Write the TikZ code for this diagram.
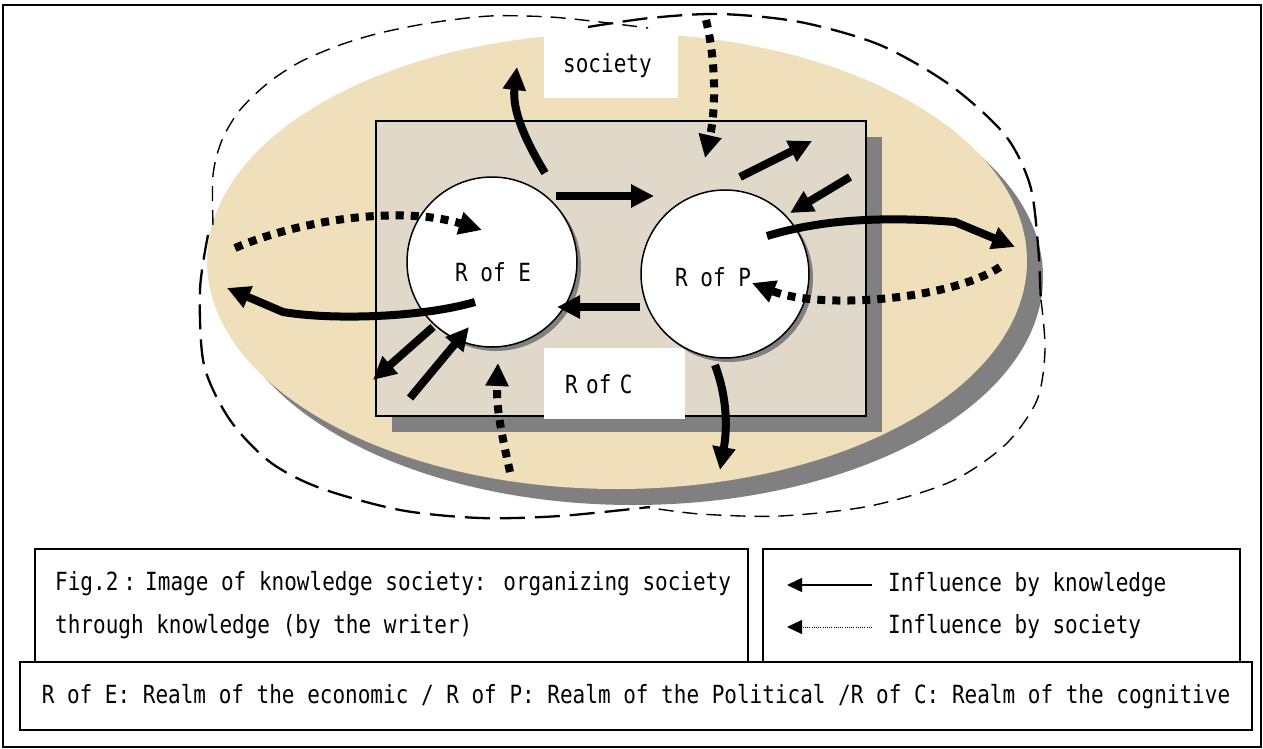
\documentclass[tikz,border=0pt]{standalone}
\usepackage{fontspec}
\setmainfont{DejaVu Sans Mono}[FakeStretch=0.84]
\usetikzlibrary{arrows.meta}

\definecolor{paper}{RGB}{239,223,186}
\definecolor{stone}{RGB}{224,216,201}
\definecolor{shadowgray}{RGB}{128,128,128}

\begin{document}
\begin{tikzpicture}[x=1pt,y=-1pt,inner sep=0pt,
    font=\fontsize{25}{30}\selectfont,
    knw/.style={line width=8pt,-{Triangle[length=23pt,width=22pt]}},
    soc/.style={knw,dash pattern=on 8pt off 7pt},
    thindash/.style={line width=1.4pt,dash pattern=on 15pt off 9pt},
    thickdash/.style={line width=2.3pt,dash pattern=on 25pt off 10pt},
    realm/.style={circle,draw,line width=1.5pt,fill=white,minimum size=170pt},
    labelbox/.style={fill=white,anchor=north west,align=left},
    legbox/.style={draw,line width=1.2pt}]

    % 画布
    \useasboundingbox (0,0) rectangle (1263,749);
    \draw[line width=1.5pt] (3,5) rectangle (1261,747);

    % 社会 (椭圆)
    \fill[shadowgray] (633,277) ellipse [x radius=410, y radius=228];
    \fill[paper] (617,261) ellipse [x radius=410, y radius=228];

    % 虚线边界
    \draw[thindash] plot[smooth] coordinates {(213,225) (213,175) (222,140) (240,110) (268,83)
        (300,62) (340,45) (380,33) (430,23) (490,16) (550,17) (600,22) (648,28)};
    \draw[thickdash] plot[smooth] coordinates {(588,27) (650,18) (720,14) (800,22) (880,45)
        (950,85) (1005,135) (1030,185) (1038,245) (1041,305)};
    \draw[thindash] plot[smooth] coordinates {(1041,300) (1045,350) (1037,400) (1005,445)
        (950,482) (870,506) (780,516) (700,514) (645,507)};
    \draw[thickdash] plot[smooth] coordinates {(208,235) (200,290) (204,365) (230,420)
        (270,462) (320,488) (400,510) (480,518) (560,516) (650,507)};

    % 知识 (矩形)
    \fill[shadowgray] (392,137) rectangle (882,432);
    \filldraw[fill=stone,line width=1.5pt] (376,121) rectangle (866,416);

    % 标签框
    \node[labelbox,text width=96pt,inner xsep=19pt,minimum height=65pt] (soc) at (544,33) {society};
    \node[labelbox,text width=99pt,inner xsep=21pt,minimum height=71pt] (rc) at (544,348) {R of C};

    % 三个领域
    \fill[shadowgray] (496,266) circle [radius=85];
    \fill[shadowgray] (729,278) circle [radius=84];
    \node[realm] (E) at (492,262) {};
    \node[realm,minimum size=168pt] (P) at (725,274) {};
    \node (Etxt) at (493,272) {R of E};
    \node (Ptxt) at (713,277) {R of P};

    % 箭头端点
    \coordinate (k1a) at (545,173);  \coordinate (k1b) at (517,67);
    \coordinate (k2a) at (556,196);  \coordinate (k2b) at (654,196);
    \coordinate (k3a) at (740,177);  \coordinate (k3b) at (812,141);
    \coordinate (k4a) at (850,177);  \coordinate (k4b) at (790,213);
    \coordinate (k5a) at (767,236);  \coordinate (k5b) at (1015,247);
    \coordinate (k6a) at (640,307);  \coordinate (k6b) at (557,307);
    \coordinate (k7a) at (475,302);  \coordinate (k7b) at (227,288);
    \coordinate (k8a) at (433,327);  \coordinate (k8b) at (373,380);
    \coordinate (k9a) at (410,398);  \coordinate (k9b) at (469,327);
    \coordinate (k10a) at (715,365); \coordinate (k10b) at (720,470);
    \coordinate (s1a) at (235,248);  \coordinate (s1b) at (482,230);
    \coordinate (s2a) at (706,20);   \coordinate (s2b) at (705,158);
    \coordinate (s3a) at (1000,267); \coordinate (s3b) at (752,283);
    \coordinate (s4a) at (510,472);  \coordinate (s4b) at (498,363);

    % 知识的影响
    \draw[knw] (k1a) .. controls (525,140) and (512,110) .. (k1b);
    \draw[knw] (k2a) -- (k2b);
    \draw[knw] (k3a) -- (k3b);
    \draw[knw] (k4a) -- (k4b);
    \draw[knw] (k5a) .. controls (820,220) and (880,216) .. (955,222) -- (k5b);
    \draw[knw] (k6a) -- (k6b);
    \draw[knw] (k7a) .. controls (420,318) and (330,320) .. (283,312) -- (k7b);
    \draw[knw] (k8a) -- (k8b);
    \draw[knw] (k9a) -- (k9b);
    \draw[knw] (k10a) .. controls (728,400) and (727,430) .. (k10b);

    % 社会的影响
    \draw[soc] (s1a) .. controls (300,220) and (400,205) .. (s1b);
    \draw[soc] (s2a) .. controls (716,60) and (716,110) .. (s2b);
    \draw[soc] (s3a) .. controls (950,300) and (820,310) .. (s3b);
    \draw[soc] (s4a) .. controls (503,440) and (496,410) .. (s4b);

    % 图注
    \draw[legbox] (35,549) rectangle (748,662);
    \draw[legbox] (763,549) rectangle (1240,662);
    \draw[legbox] (20,662) rectangle (1252,730);
    \node[anchor=west] (cap1) at (55,584) {Fig.2{\spaceskip=5pt\relax{} : }Image of knowledge society: organizing society};
    \node[anchor=west] (cap2) at (55,627) {through knowledge (by the writer)};

    \coordinate (lk1) at (872,585); \coordinate (lk2) at (787,585);
    \coordinate (ls1) at (872,627); \coordinate (ls2) at (787,627);
    \draw[line width=1.5pt,-{Triangle[length=15pt,width=14pt]}] (lk1) -- (lk2);
    \draw[line width=1pt,dash pattern=on 1pt off 1.2pt,-{Triangle[length=15pt,width=14pt]}] (ls1) -- (ls2);
    \node[anchor=west] (lgk) at (888,585) {Influence by knowledge};
    \node[anchor=west] (lgs) at (888,627) {Influence by society};

    \node (abbr) at (636,697) {R of E: Realm of the economic / R of P: Realm of the Political /R of C: Realm of the cognitive};

\end{tikzpicture}
\end{document}
